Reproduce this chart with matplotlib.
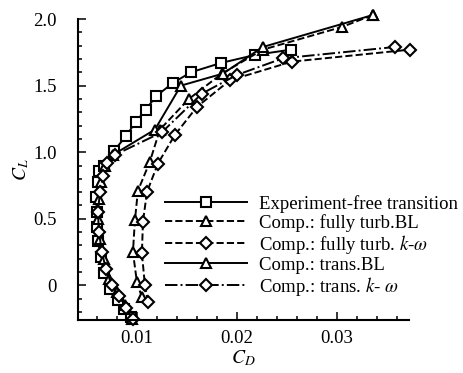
import matplotlib
matplotlib.use('Agg')
import matplotlib.pyplot as plt
from matplotlib.ticker import MultipleLocator, FixedFormatter, FixedLocator

plt.rcParams['font.family'] = ['Liberation Serif', 'DejaVu Serif']
plt.rcParams['mathtext.fontset'] = 'stix'

# experiment - free transition
expCd = [0.0094, 0.0087, 0.0081, 0.0073, 0.0067, 0.0064, 0.0061, 0.0060, 0.0060, 0.0059,
         0.0061, 0.0062, 0.0067, 0.0077, 0.0089, 0.0099, 0.0109, 0.0119, 0.0136, 0.0154,
         0.0184, 0.0218, 0.0254]
expCl = [-0.24, -0.18, -0.11, -0.03, 0.09, 0.21, 0.33, 0.44, 0.55, 0.66,
         0.78, 0.86, 0.90, 1.01, 1.12, 1.23, 1.32, 1.42, 1.52, 1.60,
         1.67, 1.73, 1.77]

# comp.: fully turbulent BL
turbBlCd = [0.0105, 0.0100, 0.0096, 0.0098, 0.0101, 0.0113, 0.0123, 0.0152, 0.0185, 0.0226, 0.0305, 0.0336]
turbBlCl = [-0.09, 0.025, 0.25, 0.49, 0.71, 0.93, 1.17, 1.40, 1.59, 1.77, 1.94, 2.03]

# comp.: fully turbulent k-omega
turbKwCd = [0.0111, 0.0108, 0.0105, 0.0106, 0.0110, 0.0121, 0.0138, 0.0160, 0.0193, 0.0255, 0.0373]
turbKwCl = [-0.125, 0.0, 0.24, 0.475, 0.70, 0.915, 1.13, 1.34, 1.54, 1.68, 1.77]

# comp.: transition BL
transBlCd = [0.0095, 0.0088, 0.0080, 0.0072, 0.0067, 0.0063, 0.0061, 0.0062, 0.0064, 0.0068,
             0.0076, 0.0118, 0.0144, 0.0186, 0.0226, 0.0336]
transBlCl = [-0.25, -0.15, -0.05, 0.05, 0.20, 0.35, 0.50, 0.65, 0.78, 0.90,
             0.98, 1.17, 1.50, 1.59, 1.79, 2.03]

# comp.: transition k-omega
transKwCd = [0.0096, 0.0089, 0.0082, 0.0075, 0.0069, 0.0065, 0.0062, 0.0061, 0.0063, 0.0066,
             0.0070, 0.0078, 0.0125, 0.0165, 0.0200, 0.0246, 0.0358]
transKwCl = [-0.25, -0.17, -0.08, 0.0, 0.12, 0.25, 0.40, 0.55, 0.70, 0.82,
             0.92, 0.98, 1.15, 1.44, 1.58, 1.705, 1.79]

labels = ['Experiment-free transition', 'Comp.: fully turb.BL',
          r'Comp.: fully turb. $k$-$\omega$', 'Comp.: trans.BL',
          r'Comp.: trans. $k$- $\omega$']

fig = plt.figure(figsize=(4.64, 3.73), dpi=100)
ax = fig.add_axes([0.168, 0.142, 0.713, 0.807])

mk = dict(color='black', markerfacecolor='white', markeredgewidth=1.5, markersize=7,
          linewidth=1.4, clip_on=False)
ax.plot(expCd, expCl, '-', marker='s', label=labels[0], **mk)
ax.plot(turbBlCd, turbBlCl, '--', marker='^', label=labels[1], **mk)
ax.plot(turbKwCd, turbKwCl, '--', marker='D', label=labels[2], **dict(mk, markersize=6.5))
ax.plot(transBlCd, transBlCl, '-', marker='^', label=labels[3], **mk)
ax.plot(transKwCd, transKwCl, '-.', marker='D', label=labels[4], **dict(mk, markersize=6.5))

ax.set_xlim(0.0041, 0.0372)
ax.set_ylim(-0.26, 2.0)
ax.spines['top'].set_visible(False)
ax.spines['right'].set_visible(False)
ax.spines['left'].set_linewidth(1.5)
ax.spines['bottom'].set_linewidth(1.5)

ax.xaxis.set_major_locator(FixedLocator([0.01, 0.02, 0.03]))
ax.xaxis.set_major_formatter(FixedFormatter(['0.01', '0.02', '0.03']))
ax.xaxis.set_minor_locator(MultipleLocator(0.002))
ax.yaxis.set_major_locator(FixedLocator([0, 0.5, 1.0, 1.5, 2.0]))
ax.yaxis.set_major_formatter(FixedFormatter(['0', '0.5', '1.0', '1.5', '2.0']))
ax.yaxis.set_minor_locator(MultipleLocator(0.1))
ax.tick_params(which='both', direction='in', labelsize=13.5, width=1.1)
ax.tick_params(which='major', length=6)
ax.tick_params(which='minor', length=3)
ax.tick_params(axis='y', which='major', pad=15)
ax.tick_params(axis='x', which='major', pad=7)

ax.set_xlabel(r'$C_D$', fontsize=14, labelpad=1)
ax.set_ylabel(r'$C_L$', fontsize=14, labelpad=2)

ax.legend(loc='upper left', bbox_to_anchor=(0.24, 0.44), frameon=False, fontsize=13.5,
          handlelength=4.4, labelspacing=0.05, handletextpad=0.6, borderaxespad=0)

fig.savefig('out.png', dpi=100)
